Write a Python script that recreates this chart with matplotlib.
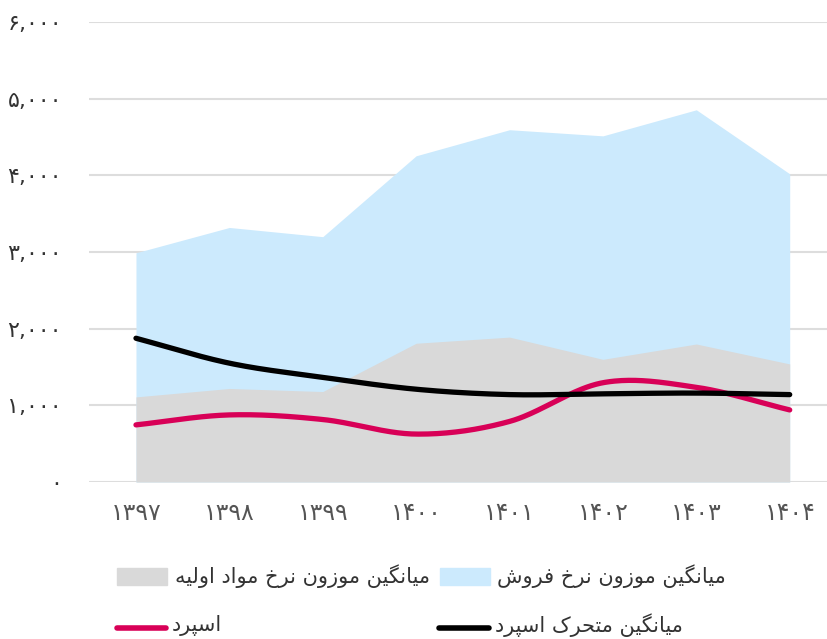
import matplotlib
matplotlib.use("Agg")
import matplotlib.pyplot as plt
from matplotlib.patches import Rectangle
from matplotlib.lines import Line2D
import numpy as np

years = ["۱۳۹۷", "۱۳۹۸", "۱۳۹۹", "۱۴۰۰", "۱۴۰۱", "۱۴۰۲", "۱۴۰۳", "۱۴۰۴"]
sales_rate = [2990, 3320, 3200, 4255, 4595, 4515, 4855, 4020]
material_rate = [1110, 1220, 1180, 1810, 1890, 1600, 1800, 1540]
spread = [745, 875, 815, 625, 790, 1295, 1235, 940]
spread_ma = [1875, 1550, 1365, 1210, 1140, 1150, 1160, 1140]
yticks = [0, 1000, 2000, 3000, 4000, 5000, 6000]
ytick_labels = ["۰", "۱,۰۰۰", "۲,۰۰۰", "۳,۰۰۰", "۴,۰۰۰", "۵,۰۰۰", "۶,۰۰۰"]

lbl_material = "میانگین موزون نرخ مواد اولیه"
lbl_sales = "میانگین موزون نرخ فروش"
lbl_spread = "اسپرد"
lbl_ma = "میانگین متحرک اسپرد"

# presentation forms: isolated, final, initial, medial
FORMS = {
    "ا": ("\uFE8D", "\uFE8E", None, None),
    "پ": ("\uFB56", "\uFB57", "\uFB58", "\uFB59"),
    "ت": ("\uFE95", "\uFE96", "\uFE97", "\uFE98"),
    "ح": ("\uFEA1", "\uFEA2", "\uFEA3", "\uFEA4"),
    "خ": ("\uFEA5", "\uFEA6", "\uFEA7", "\uFEA8"),
    "د": ("\uFEA9", "\uFEAA", None, None),
    "ر": ("\uFEAD", "\uFEAE", None, None),
    "ز": ("\uFEAF", "\uFEB0", None, None),
    "س": ("\uFEB1", "\uFEB2", "\uFEB3", "\uFEB4"),
    "ش": ("\uFEB5", "\uFEB6", "\uFEB7", "\uFEB8"),
    "ف": ("\uFED1", "\uFED2", "\uFED3", "\uFED4"),
    "ک": ("\uFB8E", "\uFB8F", "\uFB90", "\uFB91"),
    "گ": ("\uFB92", "\uFB93", "\uFB94", "\uFB95"),
    "ل": ("\uFEDD", "\uFEDE", "\uFEDF", "\uFEE0"),
    "م": ("\uFEE1", "\uFEE2", "\uFEE3", "\uFEE4"),
    "ن": ("\uFEE5", "\uFEE6", "\uFEE7", "\uFEE8"),
    "ه": ("\uFEE9", "\uFEEA", "\uFEEB", "\uFEEC"),
    "و": ("\uFEED", "\uFEEE", None, None),
    "ی": ("\uFBFC", "\uFBFD", "\uFBFE", "\uFBFF"),
}


def shape(text):
    out = []
    for i, c in enumerate(text):
        if c not in FORMS:
            out.append(c)
            continue
        prev = text[i - 1] if i > 0 else None
        nxt = text[i + 1] if i + 1 < len(text) else None
        jp = prev in FORMS and FORMS[prev][2] is not None
        jn = nxt in FORMS and FORMS[c][2] is not None
        iso, fin, ini, med = FORMS[c]
        if jp and jn:
            out.append(med)
        elif jp:
            out.append(fin)
        elif jn:
            out.append(ini)
        else:
            out.append(iso)
    return "".join(reversed(out))


def spline(x, y, n=40):
    # catmull-rom style smoothing through the points
    x = np.asarray(x, float)
    y = np.asarray(y, float)
    m = np.zeros_like(y)
    m[1:-1] = (y[2:] - y[:-2]) / (x[2:] - x[:-2])
    m[0] = y[1] - y[0]
    m[-1] = y[-1] - y[-2]
    xs, ys = [], []
    for k in range(len(x) - 1):
        h = x[k + 1] - x[k]
        t = np.linspace(0, 1, n, endpoint=(k == len(x) - 2))
        h00 = 2 * t**3 - 3 * t**2 + 1
        h10 = t**3 - 2 * t**2 + t
        h01 = -2 * t**3 + 3 * t**2
        h11 = t**3 - t**2
        xs.append(x[k] + t * h)
        ys.append(h00 * y[k] + h10 * h * m[k] + h01 * y[k + 1] + h11 * h * m[k + 1])
    return np.concatenate(xs), np.concatenate(ys)


plt.rcParams['font.family'] = ['DejaVu Sans']

GRAY = "#d9d9d9"
BLUE = "#cceafd"
RED = "#d80057"
BLACK = "#000000"

fig = plt.figure(figsize=(8.28, 6.39), dpi=100)
ax = fig.add_axes([89 / 828, 157 / 639, 739 / 828, 460 / 639])

x = np.arange(len(years))
ax.fill_between(x, 0, sales_rate, color=BLUE, lw=0, zorder=2)
ax.fill_between(x, 0, material_rate, color=GRAY, lw=0, zorder=3)

sx, sy = spline(x, spread)
ax.plot(sx, sy, color=RED, lw=3.8, solid_capstyle="round", zorder=5)
mx, my = spline(x, spread_ma)
ax.plot(mx, my, color=BLACK, lw=3.8, solid_capstyle="round", zorder=6)

ax.set_xlim(-0.503, 7.41)
ax.set_ylim(0, 6000)
ax.set_yticks(yticks)
ax.set_yticklabels(ytick_labels, fontsize=16, color="#333333")
ax.set_xticks(x)
ax.set_xticklabels(years, fontsize=17, color="#555555")
ax.tick_params(axis="y", length=0, pad=19.5)
ax.tick_params(axis="x", length=0, pad=14)
ax.grid(axis="y", color="#dddddd", lw=1.5, zorder=1)
ax.set_axisbelow(True)
for s in ax.spines.values():
    s.set_visible(False)


def fx(px):
    return px / 828


def fy(py):
    return 1 - py / 639


# legend
fig.add_artist(Rectangle((fx(117), fy(585)), 50 / 828, 17 / 639, color=GRAY, transform=fig.transFigure))
fig.text(fx(175), fy(576), shape(lbl_material), fontsize=15, color="#333333", va="center", ha="left")
fig.add_artist(Rectangle((fx(440), fy(585)), 50 / 828, 17 / 639, color=BLUE, transform=fig.transFigure))
fig.text(fx(497), fy(576), shape(lbl_sales), fontsize=15, color="#333333", va="center", ha="left")

fig.add_artist(Line2D([fx(117), fx(166)], [fy(628), fy(628)], color=RED, lw=4, solid_capstyle="round", transform=fig.transFigure))
fig.text(fx(172), fy(625), shape(lbl_spread), fontsize=15, color="#333333", va="center", ha="left")
fig.add_artist(Line2D([fx(439), fx(489)], [fy(628), fy(628)], color=BLACK, lw=4, solid_capstyle="round", transform=fig.transFigure))
fig.text(fx(495), fy(625), shape(lbl_ma), fontsize=15, color="#333333", va="center", ha="left")

fig.savefig("out.png", dpi=100)
